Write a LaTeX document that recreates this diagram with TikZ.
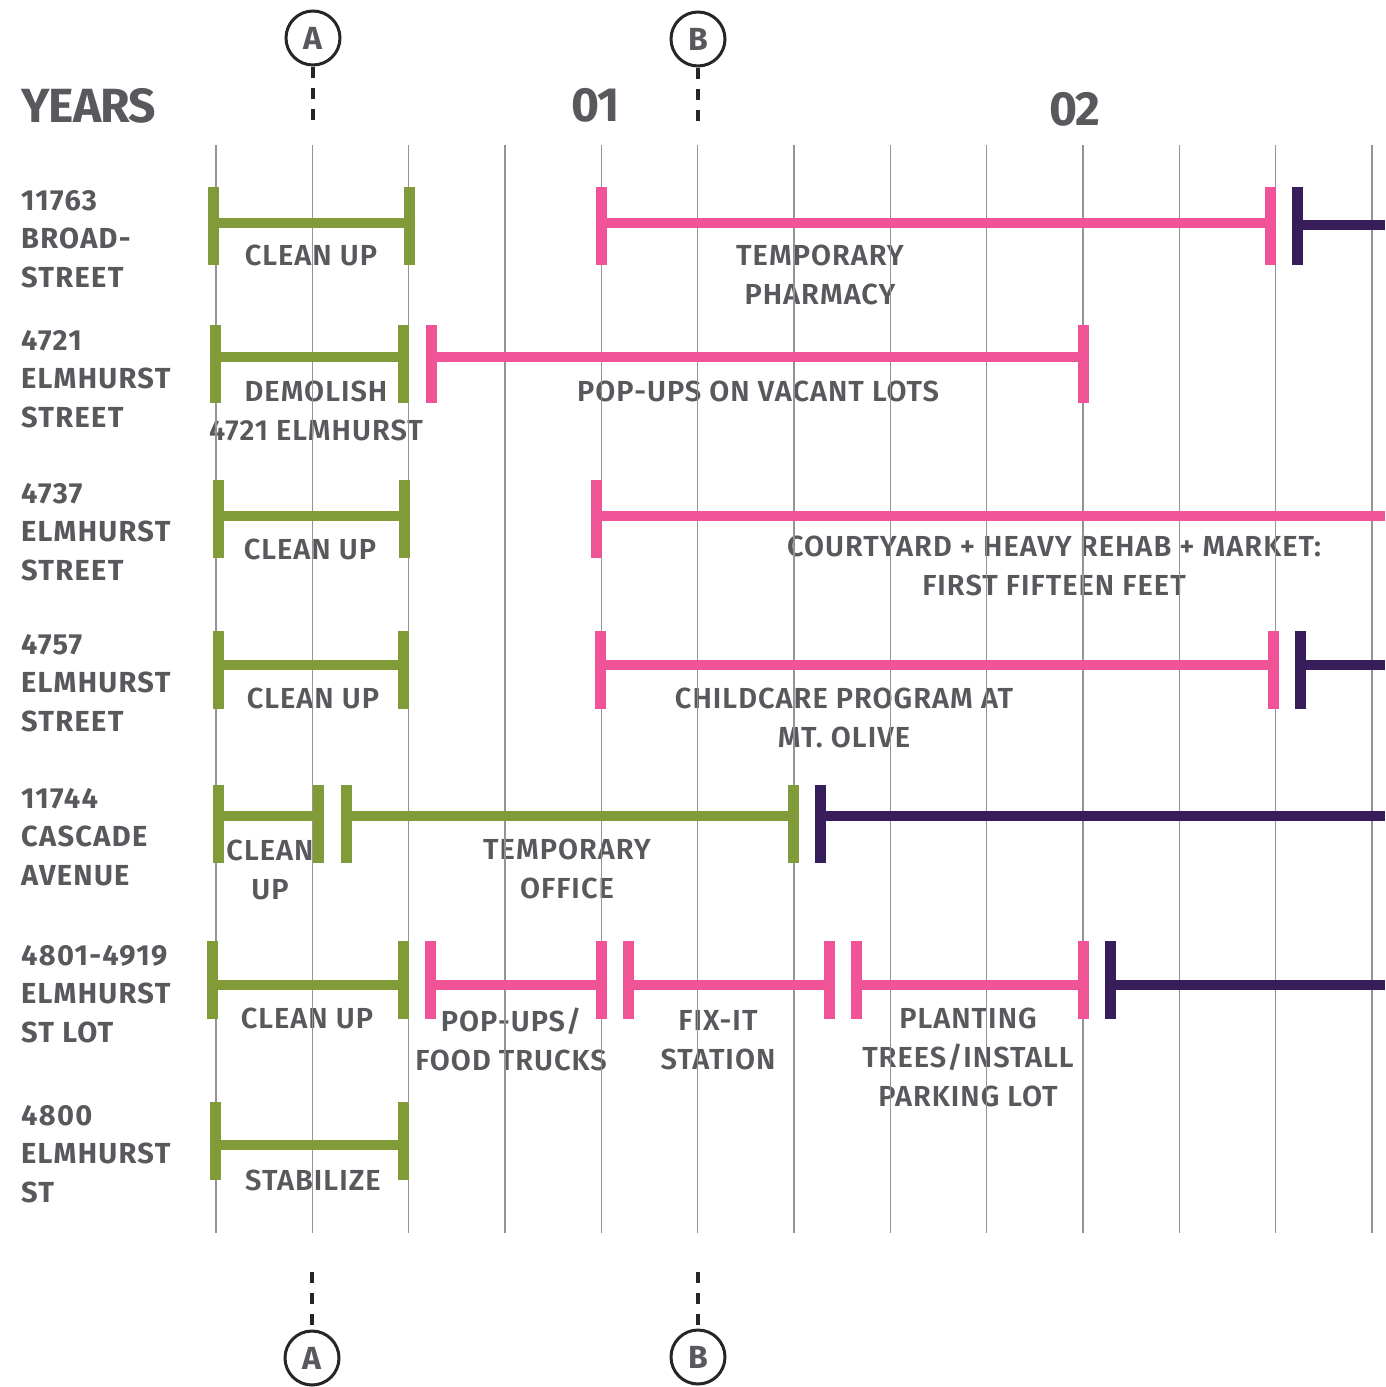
\documentclass[tikz,border=0pt]{standalone}
\usepackage{fontspec}
\setmainfont{Fira Sans}
\newfontfamily\streetfont{Fira Sans}[LetterSpace=4.5]
\IfFontExistsTF{Fira Sans SemiBold}
  {\newfontfamily\phasefont{Fira Sans SemiBold}[LetterSpace=3.5]}
  {\newfontfamily\phasefont{Fira Sans}[LetterSpace=3.5,UprightFont=*Bold]}
\newfontfamily\headfont{Fira Sans}[LetterSpace=-2]
\definecolor{phasegreen}{RGB}{128,155,55}
\definecolor{phasepink}{RGB}{240,84,150}
\definecolor{phasepurple}{RGB}{55,30,90}
\definecolor{textgray}{RGB}{88,89,93}

\begin{document}
\begin{tikzpicture}[
  x=1pt, y=-1pt,
  gridline/.style={draw=black!42, line width=1.3pt},
  phase/.style={draw=#1, line width=10pt},
  endcap/.style={draw=#1, line width=11pt},
  street/.style={
    anchor=north west,
    align=left,
    inner sep=0pt,
    text=textgray,
    font=\streetfont\fontsize{29}{38.5}\selectfont\bfseries
  },
  task/.style={
    anchor=north,
    align=center,
    inner sep=0pt,
    text=textgray,
    font=\phasefont\fontsize{29}{39}\selectfont
  },
  yearlbl/.style={anchor=north, inner sep=0pt, text=textgray, font=\headfont\fontsize{48}{48}\selectfont\bfseries},
  marker/.style={
    circle,
    draw=black!85,
    line width=3pt,
    minimum size=54pt,
    inner sep=0pt,
    text=textgray,
    font=\fontsize{32}{32}\selectfont\bfseries
  },
  sectionline/.style={draw=black!85, line width=3.5pt, dash pattern=on 11pt off 10pt}
]
\useasboundingbox (0,0) rectangle (1385,1387);

% header
\node[yearlbl, anchor=north west] (years) at (21,88) {YEARS};
\node[yearlbl] (y01) at (596,88) {01};
\node[yearlbl] (y02) at (1075,92) {02};

% sites
\node[street] (s1) at (21,190) {11763\\BROAD-\\STREET};
\node[street] (s2) at (21,330) {4721\\ELMHURST\\STREET};
\node[street] (s3) at (21,483) {4737\\ELMHURST\\STREET};
\node[street] (s4) at (21,634) {4757\\ELMHURST\\STREET};
\node[street] (s5) at (21,788) {11744\\CASCADE\\AVENUE};
\node[street] (s6) at (21,945) {4801-4919\\ELMHURST\\ST LOT};
\node[street] (s7) at (21,1105) {4800\\ELMHURST\\ST};

% phase labels
\node[task] (t1a) at (311,245) {CLEAN UP};
\node[task] (t1b) at (820,245) {TEMPORARY\\PHARMACY};
\node[task] (t2a) at (316,381) {DEMOLISH\\4721 ELMHURST};
\node[task] (t2b) at (758,381) {POP-UPS ON VACANT LOTS};
\node[task] (t3a) at (310,539) {CLEAN UP};
\node[task] (t3b) at (1054,536) {COURTYARD + HEAVY REHAB + MARKET:\\FIRST FIFTEEN FEET};
\node[task] (t4a) at (313,688) {CLEAN UP};
\node[task] (t4b) at (844,688) {CHILDCARE PROGRAM AT\\MT. OLIVE};
\node[task] (t5a) at (270,840) {CLEAN\\UP};
\node[task] (t5b) at (567,839) {TEMPORARY\\OFFICE};
\node[task] (t6a) at (307,1008) {CLEAN UP};
\node[task] (t6b) at (511,1008) {POP-UPS/\\FOOD TRUCKS};
\node[task] (t6c) at (718,1010) {FIX-IT\\STATION};
\node[task] (t6d) at (968,1008) {PLANTING\\TREES/INSTALL\\PARKING LOT};
\node[task] (t7a) at (313,1170) {STABILIZE};

% grid of quarters
\foreach \i in {0,...,12}
  \draw[gridline] ({216+96.33*\i},145) -- ({216+96.33*\i},1233);

% closed phases
\foreach \col/\xa/\xb/\yl/\yc in {
    phasegreen/213/409/223/187, phasepink/601/1270/223/187,
    phasegreen/215/403/357/325, phasepink/431/1083/357/325,
    phasegreen/218/404/516/480,
    phasegreen/218/403/665/631, phasepink/600/1273/665/631,
    phasegreen/218/318/816/785, phasegreen/346/793/816/785,
    phasegreen/212/403/985/941, phasepink/430/601/985/941,
    phasepink/628/829/985/941, phasepink/856/1083/985/941,
    phasegreen/215/403/1145/1102} {
  \draw[phase=\col] (\xa,\yl) -- (\xb,\yl);
  \draw[endcap=\col] (\xa,\yc) -- ++(0,78);
  \draw[endcap=\col] (\xb,\yc) -- ++(0,78);
}

% ongoing phases
\foreach \col/\xa/\yl/\yc in {
    phasepurple/1297/225/187, phasepink/596/516/480,
    phasepurple/1300/665/631, phasepurple/820/816/785,
    phasepurple/1110/985/941} {
  \draw[phase=\col] (\xa,\yl) -- (1385,\yl);
  \draw[endcap=\col] (\xa,\yc) -- ++(0,78);
}

% section markers
\node[marker] (secA) at (313,38) {A};
\node[marker] (secB) at (698,39) {B};
\node[marker] (secAb) at (312,1358) {A};
\node[marker] (secBb) at (698,1357) {B};
\coordinate (endA) at (313,125);
\coordinate (endB) at (698,125);
\coordinate (startA) at (312,1272);
\coordinate (startB) at (698,1272);
\draw[sectionline] (secA.south) -- (endA);
\draw[sectionline] (secB.south) -- (endB);
\draw[sectionline] (startA) -- (secAb.north);
\draw[sectionline] (startB) -- (secBb.north);

\end{tikzpicture}
\end{document}
